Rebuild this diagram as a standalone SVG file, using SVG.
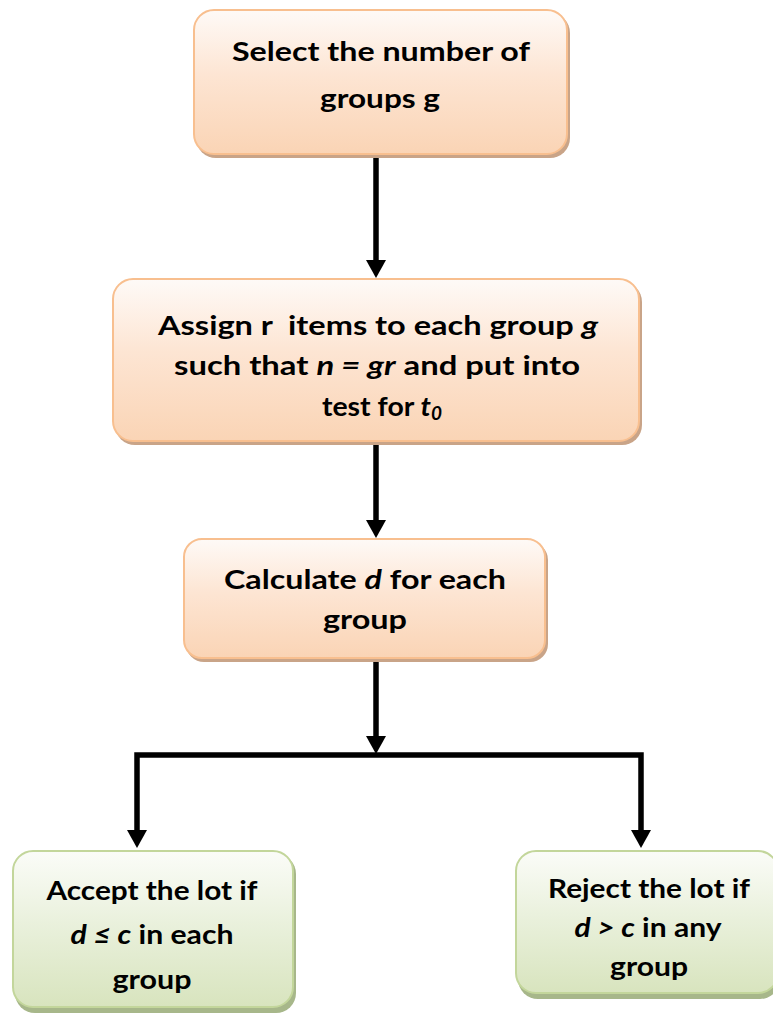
<svg xmlns="http://www.w3.org/2000/svg" width="773" height="1015" viewBox="0 0 773 1015">
<defs>
<linearGradient id="gOr" x1="0" y1="0" x2="0" y2="1">
<stop offset="0" stop-color="#fefaf7"/>
<stop offset="0.45" stop-color="#fde5d3"/>
<stop offset="1" stop-color="#fad4b5"/>
</linearGradient>
<linearGradient id="gGr" x1="0" y1="0" x2="0" y2="1">
<stop offset="0" stop-color="#fbfcf8"/>
<stop offset="0.45" stop-color="#eaf1dd"/>
<stop offset="1" stop-color="#d8e4be"/>
</linearGradient>
<marker id="ah" markerUnits="userSpaceOnUse" markerWidth="22" markerHeight="22" refX="0" refY="10" orient="auto" viewBox="0 0 22 20">
<path d="M0,0 L18,10 L0,20 z" fill="#000"/>
</marker>
<style>
.or{fill:url(#gOr);stroke:#f8bf8f;stroke-width:2}
.orS{fill:#c9a488}
.gr{fill:url(#gGr);stroke:#c3d69b;stroke-width:2}
.grS{fill:#a7b78a}
.t{font-family:Lato,"Liberation Sans",sans-serif;font-weight:bold;font-size:27px;fill:#000;text-anchor:middle}
.i{font-style:italic}
.c{fill:none;stroke:#000;stroke-width:5.5;marker-end:url(#ah)}
</style>
</defs>
<g id="connectors">
<path class="c" d="M376,157 L376,260"/>
<path class="c" d="M376,442 L376,520"/>
<path class="c" d="M376,660 L376,736"/>
<path class="c" d="M376,755 L137,755 L137,830" stroke-linejoin="miter"/>
<path class="c" d="M376,755 L641,755 L641,830" stroke-linejoin="miter"/>
</g>
<g id="n1">
<rect class="orS" x="196" y="13" width="374" height="145" rx="20"/>
<rect class="or" x="194" y="10" width="373" height="144" rx="20"/>
<text class="t" x="381" y="61" textLength="298" lengthAdjust="spacingAndGlyphs">Select the number of</text>
<text class="t" x="380" y="108" textLength="120" lengthAdjust="spacingAndGlyphs">groups g</text>
</g>
<g id="n2">
<rect class="orS" x="115" y="282" width="527" height="163" rx="20"/>
<rect class="or" x="113" y="279" width="526" height="162" rx="20"/>
<text class="t" x="378" y="335" textLength="440" lengthAdjust="spacingAndGlyphs">Assign r&#160; items to each group <tspan class="i">g</tspan></text>
<text class="t" x="377" y="375" textLength="406" lengthAdjust="spacingAndGlyphs">such that <tspan class="i">n = gr</tspan> and put into</text>
<text class="t" x="382" y="416" textLength="120" lengthAdjust="spacingAndGlyphs">test for <tspan class="i">t</tspan><tspan class="i" font-size="18" dy="4">0</tspan></text>
</g>
<g id="n3">
<rect class="orS" x="186" y="542" width="362" height="120" rx="18"/>
<rect class="or" x="184" y="539" width="361" height="119" rx="18"/>
<text class="t" x="365" y="589" textLength="282" lengthAdjust="spacingAndGlyphs">Calculate <tspan class="i">d</tspan> for each</text>
<text class="t" x="365" y="629" textLength="84" lengthAdjust="spacingAndGlyphs">group</text>
</g>
<g id="n4">
<rect class="grS" x="15" y="854" width="281" height="159" rx="20"/>
<rect class="gr" x="13" y="851" width="280" height="156" rx="20"/>
<text class="t" x="152" y="900" textLength="211" lengthAdjust="spacingAndGlyphs">Accept the lot if</text>
<text class="t" x="152" y="944" textLength="163" lengthAdjust="spacingAndGlyphs"><tspan class="i">d ≤ c</tspan> in each</text>
<text class="t" x="152" y="989" textLength="79" lengthAdjust="spacingAndGlyphs">group</text>
</g>
<g id="n5">
<rect class="grS" x="518" y="854" width="262" height="145" rx="20"/>
<rect class="gr" x="516" y="851" width="262" height="142" rx="20"/>
<text class="t" x="649" y="898" textLength="202" lengthAdjust="spacingAndGlyphs">Reject the lot if</text>
<text class="t" x="648" y="937" textLength="147" lengthAdjust="spacingAndGlyphs"><tspan class="i">d &gt; c</tspan> in any</text>
<text class="t" x="649" y="976" textLength="78" lengthAdjust="spacingAndGlyphs">group</text>
</g>
</svg>
